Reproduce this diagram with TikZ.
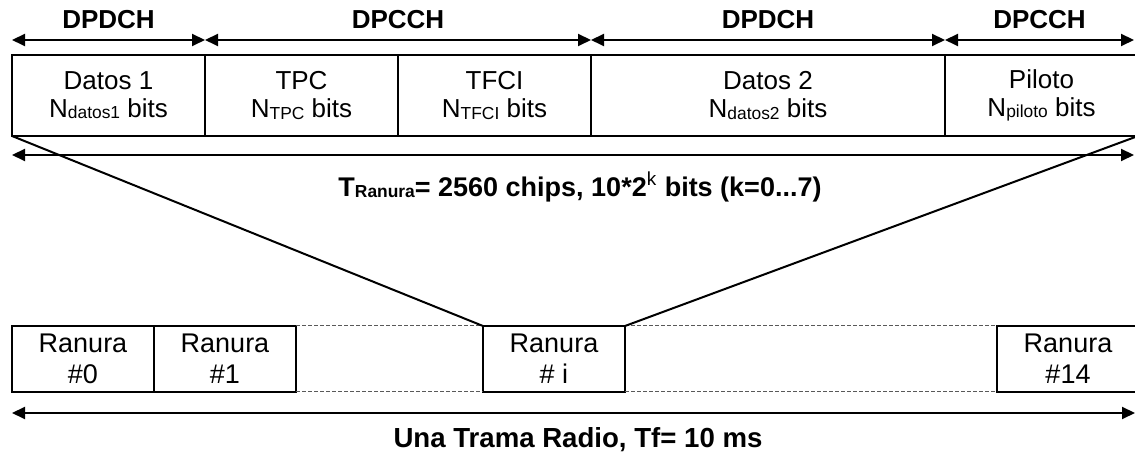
\documentclass[tikz,border=0pt]{standalone}
\usepackage{fontspec}
\setmainfont{Liberation Sans}
\usetikzlibrary{arrows.meta,positioning}

\newcommand{\subind}[1]{\raisebox{-0.6pt}{\fontsize{8.7}{10}\selectfont #1}}

\tikzset{
  campo/.style={draw, line width=1pt, minimum width=96.5pt, minimum height=40.5pt,
    inner sep=0pt, outer sep=0pt, align=center, font=\fontsize{13}{14}\selectfont},
  ranura/.style={campo, minimum width=71pt, minimum height=33pt,
    font=\fontsize{13.5}{15.5}\selectfont},
  flecha/.style={line width=1pt,
    {Triangle[length=6.5pt,width=6pt]}-{Triangle[length=6.5pt,width=6pt]}},
  etiq/.style={inner sep=0pt, font=\bfseries\fontsize{13}{15}\selectfont},
  guia/.style={gray!70!black, line width=0.5pt, dash pattern=on 2pt off 1pt},
}

\begin{document}
\begin{tikzpicture}[x=0.5pt, y=-0.5pt]
  \useasboundingbox (0,0) rectangle (1135,453);
  \clip (0,0) rectangle (1135,453);

  % campos de la ranura
  \node[campo, anchor=north west] (d1) at (12,55) {Datos 1\\N\subind{datos1} bits};
  \node[campo, right=0pt of d1] (tpc) {TPC\\N\subind{TPC} bits};
  \node[campo, right=0pt of tpc] (tfci) {TFCI\\N\subind{TFCI} bits};
  \node[campo, right=0pt of tfci, minimum width=177pt] (d2) {Datos 2\\N\subind{datos2} bits};
  \node[campo, right=0pt of d2] (pil) {Piloto\\N\subind{piloto} bits};

  % canales sobre los campos
  \draw[flecha] ([yshift=7.5pt]d1.north west)
    -- node[etiq, above=5pt] (c1) {DPDCH} ([yshift=7.5pt]d1.north east);
  \draw[flecha] ([yshift=7.5pt]tpc.north west)
    -- node[etiq, above=5pt] (c2) {DPCCH} ([yshift=7.5pt]tfci.north east);
  \draw[flecha] ([yshift=7.5pt]d2.north west)
    -- node[etiq, above=5pt] (c3) {DPDCH} ([yshift=7.5pt]d2.north east);
  \draw[flecha, shorten >=2pt] ([yshift=7.5pt]pil.north west)
    -- node[etiq, above=5pt, xshift=-1pt] (c4) {DPCCH} ([yshift=7.5pt]pil.north east);

  % duracion de la ranura
  \draw[flecha, shorten >=2pt] ([yshift=-9.5pt]d1.south west) -- ([yshift=-9.5pt]pil.south east);
  \node[etiq, font=\bfseries\fontsize{13.5}{15}\selectfont] (tran) at (580,187)
    {T\subind{\bfseries Ranura}= 2560 chips, 10*2\textsuperscript{\mdseries k} bits (k=0...7)};

  % ranuras de la trama
  \node[ranura, anchor=north west] (r0) at (12,326) {Ranura\\\#0};
  \node[ranura, right=0pt of r0] (r1) {Ranura\\\#1};
  \node[ranura, anchor=north west] (ri) at (483,326) {Ranura\\\# i};
  \node[ranura, anchor=north west] (r14) at (997,326) {Ranura\\\#14};

  \draw[guia] (r1.north east) -- (ri.north west);
  \draw[guia] (r1.south east) -- (ri.south west);
  \draw[guia] (ri.north east) -- (r14.north west);
  \draw[guia] (ri.south east) -- (r14.south west);

  % ampliacion de la ranura i
  \draw[line width=1pt] (d1.south west) -- (ri.north west);
  \draw[line width=1pt] (pil.south east) -- (ri.north east);

  % duracion de la trama
  \draw[flecha, shorten >=2pt] ([yshift=-10.5pt]r0.south west) -- ([yshift=-10.5pt]r14.south east);
  \node[etiq, font=\bfseries\fontsize{13.8}{15}\selectfont] (trama) at (578,440)
    {Una Trama Radio, Tf= 10 ms};
\end{tikzpicture}
\end{document}
